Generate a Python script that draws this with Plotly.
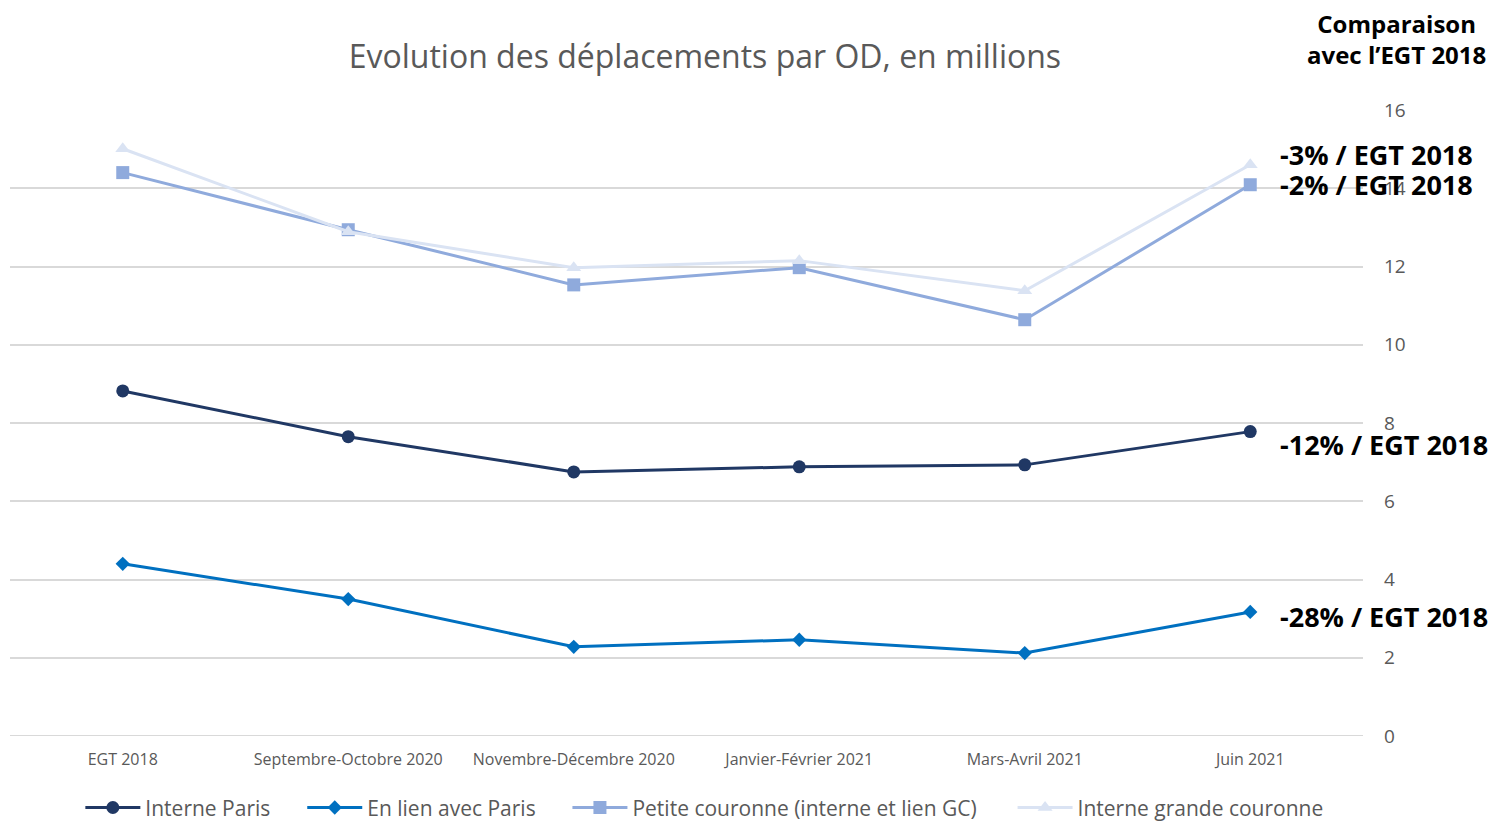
import plotly.graph_objects as go

categories = ["EGT 2018", "Septembre-Octobre 2020", "Novembre-Décembre 2020",
              "Janvier-Février 2021", "Mars-Avril 2021", "Juin 2021"]
interne_paris = [8.82, 7.65, 6.75, 6.88, 6.93, 7.78]
lien_paris = [4.40, 3.50, 2.28, 2.46, 2.12, 3.17]
petite_couronne = [14.40, 12.94, 11.53, 11.97, 10.64, 14.09]
grande_couronne = [15.01, 12.89, 11.97, 12.15, 11.38, 14.60]

series = [
    ("Interne Paris", interne_paris, "#203864", "circle", 13),
    ("En lien avec Paris", lien_paris, "#0070C0", "diamond", 11),
    ("Petite couronne (interne et lien GC)", petite_couronne, "#8FAADC", "square", 13),
    ("Interne grande couronne", grande_couronne, "#DAE3F3", "triangle-up", 13),
]
# one legend per series so the items can be spaced like the original
legend_x = [0.052, 0.216, 0.412, 0.741]

fig = go.Figure()
for idx, (name, vals, color, symbol, size) in enumerate(series):
    fig.add_trace(go.Scatter(
        x=categories, y=vals, name=name, mode="lines+markers",
        line=dict(color=color, width=3),
        marker=dict(symbol=symbol, size=size, color=color),
        legend="legend" if idx == 0 else f"legend{idx + 1}",
    ))

# comparison labels on the right
bold = dict(family="Open Sans", size=27, color="black")
fig.add_annotation(text="<b>Comparaison<br>avec l’EGT 2018</b>", xref="paper", yref="paper",
                   x=1.025, y=1.113, xanchor="center", yanchor="middle",
                   showarrow=False, font=dict(family="Open Sans", size=24, color="black"))
labels = [("-3% / EGT 2018", 14.85), ("-2% / EGT 2018", 14.09),
          ("-12% / EGT 2018", 7.45), ("-28% / EGT 2018", 3.05)]
for txt, yv in labels:
    fig.add_annotation(text=f"<b>{txt}</b>", xref="paper", yref="y",
                       x=0.937, y=yv, xanchor="left", yanchor="middle",
                       showarrow=False, font=bold)

leg_common = dict(orientation="h", y=-0.082, xanchor="left", yanchor="top",
                  font=dict(size=21, color="#595959"), bgcolor="rgba(0,0,0,0)",
                  itemwidth=55)
fig.update_layout(
    width=1503, height=822,
    paper_bgcolor="white", plot_bgcolor="white",
    margin=dict(l=10, r=140, t=110, b=86, autoexpand=False),
    title=dict(text="Evolution des déplacements par OD, en millions",
               x=0.469, xanchor="center", y=0.931, yanchor="middle",
               font=dict(family="Open Sans", size=32, color="#595959")),
    font=dict(family="Open Sans", color="#595959"),
    xaxis=dict(range=[-0.5, 5.5], showgrid=False, zeroline=False,
               tickfont=dict(size=16, color="#595959"), ticks="", showline=False,
               ticklabelstandoff=12),
    yaxis=dict(range=[0, 16], dtick=2, side="right", showgrid=True,
               gridcolor="#D9D9D9", gridwidth=2, zeroline=False,
               tickfont=dict(size=19, color="#595959"), ticklabelstandoff=20),
    legend=dict(x=legend_x[0], **leg_common),
    legend2=dict(x=legend_x[1], **leg_common),
    legend3=dict(x=legend_x[2], **leg_common),
    legend4=dict(x=legend_x[3], **leg_common),
    showlegend=True,
)
fig.add_hline(y=0, line=dict(color="#D9D9D9", width=2), layer="below")

fig.write_html("out.html", config={"displayModeBar": False},
               post_script="document.body.style.margin='0px';")
